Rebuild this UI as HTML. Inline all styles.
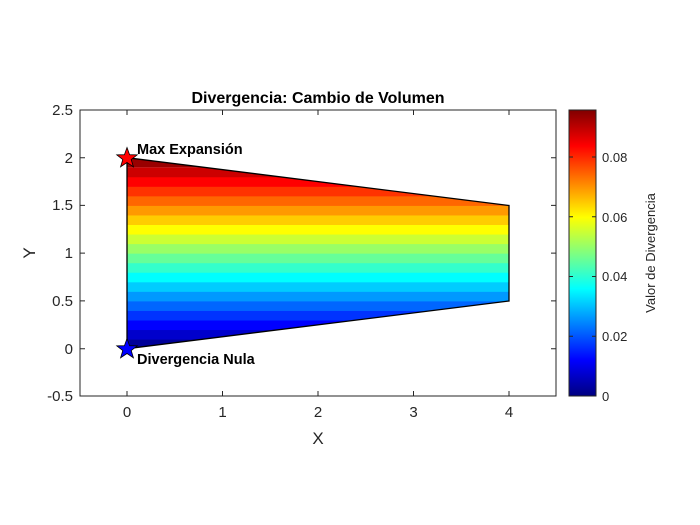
<!DOCTYPE html>
<html><head><meta charset="utf-8"><style>body{margin:0;background:#fff}svg{display:block}text{font-family:"Liberation Sans",Arial,sans-serif;fill:#262626}</style></head>
<body>
<svg width="700" height="525" viewBox="0 0 700 525" xmlns="http://www.w3.org/2000/svg">
<defs>
<clipPath id="trap"><polygon points="127,348.7 509,301 509,205.5 127,157.7"/></clipPath>
<linearGradient id="jet" x1="0" y1="1" x2="0" y2="0">
<stop offset="0" stop-color="#000080"/><stop offset="0.125" stop-color="#0000ff"/><stop offset="0.375" stop-color="#00ffff"/><stop offset="0.625" stop-color="#ffff00"/><stop offset="0.875" stop-color="#ff0000"/><stop offset="1" stop-color="#800000"/>
</linearGradient>
</defs>
<rect x="80" y="110" width="476" height="286" fill="#fff"/>
<g clip-path="url(#trap)">
<rect x="127" y="339.15" width="382" height="10" fill="#000099"/>
<rect x="127" y="329.6" width="382" height="10" fill="#0000CC"/>
<rect x="127" y="320.05" width="382" height="10" fill="#0000FF"/>
<rect x="127" y="310.5" width="382" height="10" fill="#0033FF"/>
<rect x="127" y="300.95" width="382" height="10" fill="#0066FF"/>
<rect x="127" y="291.4" width="382" height="10" fill="#0099FF"/>
<rect x="127" y="281.85" width="382" height="10" fill="#00CCFF"/>
<rect x="127" y="272.3" width="382" height="10" fill="#00FFFF"/>
<rect x="127" y="262.75" width="382" height="10" fill="#33FFCC"/>
<rect x="127" y="253.2" width="382" height="10" fill="#66FF99"/>
<rect x="127" y="243.65" width="382" height="10" fill="#99FF66"/>
<rect x="127" y="234.1" width="382" height="10" fill="#CCFF33"/>
<rect x="127" y="224.55" width="382" height="10" fill="#FFFF00"/>
<rect x="127" y="215" width="382" height="10" fill="#FFCC00"/>
<rect x="127" y="205.45" width="382" height="10" fill="#FF9900"/>
<rect x="127" y="195.9" width="382" height="10" fill="#FF6600"/>
<rect x="127" y="186.35" width="382" height="10" fill="#FF3300"/>
<rect x="127" y="176.8" width="382" height="10" fill="#FF0000"/>
<rect x="127" y="167.25" width="382" height="10" fill="#CC0000"/>
<rect x="127" y="157" width="382" height="10.3" fill="#990000"/>
</g>
<polygon points="127,348.7 509,301 509,205.5 127,157.7" fill="none" stroke="#000" stroke-width="1.3"/>
<rect x="80" y="110" width="476" height="286" fill="none" stroke="#262626" stroke-width="1"/>
<g stroke="#262626" stroke-width="1">
<path d="M127,396v-5M222.5,396v-5M318,396v-5M413.5,396v-5M509,396v-5M127,110v5M222.5,110v5M318,110v5M413.5,110v5M509,110v5"/>
<path d="M80,110h5M80,157.7h5M80,205.4h5M80,253.1h5M80,300.9h5M80,348.7h5M80,396h5M556,157.7h-5M556,205.4h-5M556,253.1h-5M556,300.9h-5M556,348.7h-5"/>
</g>
<g font-size="15" text-anchor="end">
<text x="73" y="115">2.5</text><text x="73" y="163">2</text><text x="73" y="210">1.5</text><text x="73" y="258">1</text><text x="73" y="306">0.5</text><text x="73" y="354">0</text><text x="73" y="401">-0.5</text>
</g>
<g font-size="15" text-anchor="middle">
<text x="127" y="417">0</text><text x="222.5" y="417">1</text><text x="318" y="417">2</text><text x="413.5" y="417">3</text><text x="509" y="417">4</text>
</g>
<text x="318" y="444" font-size="17" text-anchor="middle">X</text>
<text transform="translate(35,253) rotate(-90)" font-size="17" text-anchor="middle">Y</text>
<text x="318" y="103" font-size="16" font-weight="bold" text-anchor="middle" style="fill:#000">Divergencia: Cambio de Volumen</text>
<polygon points="127,147 129.6,154.2 137.2,154.4 131.2,159 133.4,166.3 127,162 120.6,166.3 122.8,159 116.8,154.4 124.4,154.2" fill="#ff0000" stroke="#000" stroke-width="0.8" transform="translate(0,0.5)"/>
<polygon points="127,338 129.6,345.2 137.2,345.4 131.2,350 133.4,357.3 127,353 120.6,357.3 122.8,350 116.8,345.4 124.4,345.2" fill="#0000ff" stroke="#000" stroke-width="0.8" transform="translate(0,0.5)"/>
<text x="137" y="154" font-size="14.5" font-weight="bold" style="fill:#000">Max Expansión</text>
<text x="137" y="364" font-size="14.5" font-weight="bold" style="fill:#000">Divergencia Nula</text>
<rect x="569" y="110" width="27" height="286" fill="url(#jet)" stroke="#262626" stroke-width="1"/>
<g stroke="#262626" stroke-width="1">
<path d="M596,336.3h-4M596,276.5h-4M596,216.8h-4M596,157h-4M569,336.3h4M569,276.5h4M569,216.8h4M569,157h4"/>
</g>
<g font-size="13">
<text x="602" y="401">0</text><text x="602" y="341">0.02</text><text x="602" y="281">0.04</text><text x="602" y="222">0.06</text><text x="602" y="162">0.08</text>
</g>
<text transform="translate(655,253) rotate(-90)" font-size="13" text-anchor="middle">Valor de Divergencia</text>
</svg>
</body></html>
